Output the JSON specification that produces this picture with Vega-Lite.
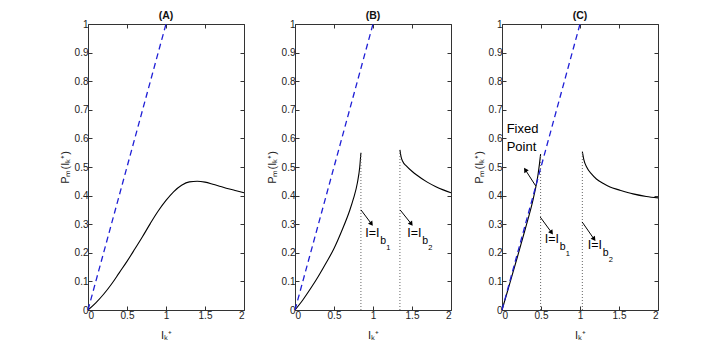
{
  "$schema": "https://vega.github.io/schema/vega-lite/v6.json",
  "padding": {"left": 58, "top": 10, "right": 5, "bottom": 5},
  "config": {
    "font": "Liberation Sans",
    "view": {"stroke": "#333333", "strokeWidth": 1},
    "axis": {"grid": false, "domain": false, "tickSize": -4, "tickColor": "#333333", "labelFontSize": 10, "labelColor": "#222222", "labelPadding": 4, "titleFontSize": 11, "titleFontWeight": "normal", "titleColor": "#222222"},
    "header": {"labelFontWeight": "bold", "labelFontSize": 10.5, "labelPadding": -3, "labelColor": "#111111"}
  },
  "data": {"values": [
    {"k":"c","p":"(A)","s":"A1","x":0,"y":0},{"k":"c","p":"(A)","s":"A1","x":0.1,"y":0.025},{"k":"c","p":"(A)","s":"A1","x":0.2,"y":0.055},{"k":"c","p":"(A)","s":"A1","x":0.3,"y":0.09},{"k":"c","p":"(A)","s":"A1","x":0.4,"y":0.13},{"k":"c","p":"(A)","s":"A1","x":0.5,"y":0.17},{"k":"c","p":"(A)","s":"A1","x":0.6,"y":0.213},{"k":"c","p":"(A)","s":"A1","x":0.7,"y":0.257},{"k":"c","p":"(A)","s":"A1","x":0.8,"y":0.303},{"k":"c","p":"(A)","s":"A1","x":0.9,"y":0.346},{"k":"c","p":"(A)","s":"A1","x":1.0,"y":0.383},{"k":"c","p":"(A)","s":"A1","x":1.1,"y":0.414},{"k":"c","p":"(A)","s":"A1","x":1.2,"y":0.436},{"k":"c","p":"(A)","s":"A1","x":1.3,"y":0.448},{"k":"c","p":"(A)","s":"A1","x":1.4,"y":0.45},{"k":"c","p":"(A)","s":"A1","x":1.5,"y":0.447},{"k":"c","p":"(A)","s":"A1","x":1.6,"y":0.44},{"k":"c","p":"(A)","s":"A1","x":1.7,"y":0.432},{"k":"c","p":"(A)","s":"A1","x":1.8,"y":0.424},{"k":"c","p":"(A)","s":"A1","x":1.9,"y":0.417},{"k":"c","p":"(A)","s":"A1","x":2.0,"y":0.41},
    {"k":"c","p":"(B)","s":"B1","x":0,"y":0},{"k":"c","p":"(B)","s":"B1","x":0.1,"y":0.035},{"k":"c","p":"(B)","s":"B1","x":0.2,"y":0.075},{"k":"c","p":"(B)","s":"B1","x":0.3,"y":0.118},{"k":"c","p":"(B)","s":"B1","x":0.4,"y":0.165},{"k":"c","p":"(B)","s":"B1","x":0.5,"y":0.215},{"k":"c","p":"(B)","s":"B1","x":0.6,"y":0.277},{"k":"c","p":"(B)","s":"B1","x":0.7,"y":0.347},{"k":"c","p":"(B)","s":"B1","x":0.75,"y":0.39},{"k":"c","p":"(B)","s":"B1","x":0.8,"y":0.445},{"k":"c","p":"(B)","s":"B1","x":0.83,"y":0.5},{"k":"c","p":"(B)","s":"B1","x":0.845,"y":0.55},
    {"k":"c","p":"(B)","s":"B2","x":1.345,"y":0.56},{"k":"c","p":"(B)","s":"B2","x":1.36,"y":0.535},{"k":"c","p":"(B)","s":"B2","x":1.38,"y":0.52},{"k":"c","p":"(B)","s":"B2","x":1.43,"y":0.503},{"k":"c","p":"(B)","s":"B2","x":1.5,"y":0.485},{"k":"c","p":"(B)","s":"B2","x":1.56,"y":0.472},{"k":"c","p":"(B)","s":"B2","x":1.69,"y":0.448},{"k":"c","p":"(B)","s":"B2","x":1.8,"y":0.432},{"k":"c","p":"(B)","s":"B2","x":1.9,"y":0.42},{"k":"c","p":"(B)","s":"B2","x":2.0,"y":0.41},
    {"k":"c","p":"(C)","s":"C1","x":0,"y":0},{"k":"c","p":"(C)","s":"C1","x":0.1,"y":0.093},{"k":"c","p":"(C)","s":"C1","x":0.2,"y":0.188},{"k":"c","p":"(C)","s":"C1","x":0.3,"y":0.285},{"k":"c","p":"(C)","s":"C1","x":0.4,"y":0.388},{"k":"c","p":"(C)","s":"C1","x":0.43,"y":0.425},{"k":"c","p":"(C)","s":"C1","x":0.46,"y":0.47},{"k":"c","p":"(C)","s":"C1","x":0.48,"y":0.51},{"k":"c","p":"(C)","s":"C1","x":0.495,"y":0.545},
    {"k":"c","p":"(C)","s":"C2","x":1.03,"y":0.554},{"k":"c","p":"(C)","s":"C2","x":1.05,"y":0.525},{"k":"c","p":"(C)","s":"C2","x":1.085,"y":0.5},{"k":"c","p":"(C)","s":"C2","x":1.15,"y":0.475},{"k":"c","p":"(C)","s":"C2","x":1.21,"y":0.458},{"k":"c","p":"(C)","s":"C2","x":1.3,"y":0.442},{"k":"c","p":"(C)","s":"C2","x":1.385,"y":0.43},{"k":"c","p":"(C)","s":"C2","x":1.5,"y":0.42},{"k":"c","p":"(C)","s":"C2","x":1.68,"y":0.406},{"k":"c","p":"(C)","s":"C2","x":1.85,"y":0.397},{"k":"c","p":"(C)","s":"C2","x":2.0,"y":0.392},
    {"k":"d","p":"(A)","x":0,"y":0},{"k":"d","p":"(A)","x":1,"y":1},
    {"k":"d","p":"(B)","x":0,"y":0},{"k":"d","p":"(B)","x":1,"y":1},
    {"k":"d","p":"(C)","x":0,"y":0},{"k":"d","p":"(C)","x":1,"y":1},
    {"k":"v","p":"(B)","x":0.845,"y":0,"y2":0.55},{"k":"v","p":"(B)","x":1.345,"y":0,"y2":0.56},
    {"k":"v","p":"(C)","x":0.495,"y":0,"y2":0.545},{"k":"v","p":"(C)","x":1.03,"y":0,"y2":0.554},
    {"k":"a","p":"(B)","x":0.846,"y":0.35,"x2":0.975,"y2":0.303},{"k":"a","p":"(B)","x":1.347,"y":0.35,"x2":1.485,"y2":0.303},
    {"k":"a","p":"(C)","x":0.49,"y":0.325,"x2":0.63,"y2":0.273},{"k":"a","p":"(C)","x":1.027,"y":0.308,"x2":1.175,"y2":0.25},
    {"k":"fa","p":"(C)","x":0.432,"y":0.434,"x2":0.304,"y2":0.488},
    {"k":"l","p":"(B)","x":0.9,"y":0.255,"t":"I=I","b":"b","n":"1"},{"k":"l","p":"(B)","x":1.44,"y":0.255,"t":"I=I","b":"b","n":"2"},
    {"k":"l","p":"(C)","x":0.547,"y":0.235,"t":"I=I","b":"b","n":"1"},{"k":"l","p":"(C)","x":1.1,"y":0.212,"t":"I=I","b":"b","n":"2"},
    {"k":"f","p":"(C)","x":0.06,"y":0.62,"t":"Fixed"},{"k":"f","p":"(C)","x":0.06,"y":0.556,"t":"Point"}
  ]},
  "facet": {"column": {"field": "p", "type": "nominal", "title": null}},
  "spacing": 18,
  "resolve": {"axis": {"x": "independent", "y": "independent"}},
  "spec": {
    "width": 156,
    "height": 286,
    "resolve": {"axis": {"x": "independent", "y": "independent"}},
    "layer": [
      {
        "transform": [{"filter": "datum.k === 'c'"}],
        "mark": {"type": "line", "color": "black", "strokeWidth": 1.1, "interpolate": "monotone"},
        "encoding": {
          "x": {"field": "x", "type": "quantitative", "scale": {"domain": [0, 2]}, "axis": {"orient": "bottom", "title": "Iₖ⁺", "values": [0, 0.5, 1, 1.5, 2], "format": "~g", "titlePadding": 9}},
          "y": {"field": "y", "type": "quantitative", "scale": {"domain": [0, 1]}, "axis": {"orient": "left", "title": "Pₘ(Iₖ⁺)", "values": [0, 0.1, 0.2, 0.3, 0.4, 0.5, 0.6, 0.7, 0.8, 0.9, 1], "format": "~g", "titlePadding": 4}},
          "detail": {"field": "s"}
        }
      },
      {
        "transform": [{"filter": "datum.k === 'v'"}],
        "mark": {"type": "rule", "color": "#666666", "strokeDash": [1, 2], "strokeWidth": 1},
        "encoding": {
          "x": {"field": "x", "type": "quantitative", "axis": null},
          "y": {"field": "y", "type": "quantitative", "axis": null},
          "y2": {"field": "y2"}
        }
      },
      {
        "transform": [{"filter": "datum.k === 'd'"}],
        "mark": {"type": "line", "color": "#1f1fd6", "strokeWidth": 1.3, "strokeDash": [6, 4]},
        "encoding": {
          "x": {"field": "x", "type": "quantitative", "axis": null},
          "y": {"field": "y", "type": "quantitative", "axis": null}
        }
      },
      {
        "transform": [{"filter": "datum.k === 'a' || datum.k === 'fa'"}],
        "mark": {"type": "rule", "color": "black", "strokeWidth": 1},
        "encoding": {
          "x": {"field": "x", "type": "quantitative", "axis": null},
          "y": {"field": "y", "type": "quantitative", "axis": null},
          "x2": {"field": "x2"},
          "y2": {"field": "y2"}
        }
      },
      {
        "transform": [{"filter": "datum.k === 'a'"}],
        "mark": {"type": "point", "shape": "triangle", "angle": 144, "filled": true, "color": "black", "opacity": 1, "size": 28},
        "encoding": {
          "x": {"field": "x2", "type": "quantitative", "axis": null},
          "y": {"field": "y2", "type": "quantitative", "axis": null}
        }
      },
      {
        "transform": [{"filter": "datum.k === 'fa'"}],
        "mark": {"type": "point", "shape": "triangle", "angle": 327, "filled": true, "color": "black", "opacity": 1, "size": 28},
        "encoding": {
          "x": {"field": "x2", "type": "quantitative", "axis": null},
          "y": {"field": "y2", "type": "quantitative", "axis": null}
        }
      },
      {
        "transform": [{"filter": "datum.k === 'l'"}],
        "mark": {"type": "text", "align": "left", "baseline": "alphabetic", "fontSize": 12.5, "color": "black"},
        "encoding": {
          "x": {"field": "x", "type": "quantitative", "axis": null},
          "y": {"field": "y", "type": "quantitative", "axis": null},
          "text": {"field": "t"}
        }
      },
      {
        "transform": [{"filter": "datum.k === 'l'"}],
        "mark": {"type": "text", "align": "left", "baseline": "alphabetic", "fontSize": 10.5, "dx": 15, "dy": 7, "color": "black"},
        "encoding": {
          "x": {"field": "x", "type": "quantitative", "axis": null},
          "y": {"field": "y", "type": "quantitative", "axis": null},
          "text": {"field": "b"}
        }
      },
      {
        "transform": [{"filter": "datum.k === 'l'"}],
        "mark": {"type": "text", "align": "left", "baseline": "alphabetic", "fontSize": 7.5, "dx": 21, "dy": 13, "color": "black"},
        "encoding": {
          "x": {"field": "x", "type": "quantitative", "axis": null},
          "y": {"field": "y", "type": "quantitative", "axis": null},
          "text": {"field": "n"}
        }
      },
      {
        "transform": [{"filter": "datum.k === 'f'"}],
        "mark": {"type": "text", "align": "left", "baseline": "alphabetic", "fontSize": 13, "color": "black"},
        "encoding": {
          "x": {"field": "x", "type": "quantitative", "axis": null},
          "y": {"field": "y", "type": "quantitative", "axis": null},
          "text": {"field": "t"}
        }
      },
      {
        "transform": [{"filter": "datum.k === 'd'"}],
        "mark": {"type": "point", "opacity": 0},
        "encoding": {
          "x": {"field": "x", "type": "quantitative", "axis": {"orient": "top", "labels": false, "title": null, "values": [0, 0.5, 1, 1.5, 2]}},
          "y": {"field": "y", "type": "quantitative", "axis": {"orient": "right", "labels": false, "title": null, "values": [0, 0.1, 0.2, 0.3, 0.4, 0.5, 0.6, 0.7, 0.8, 0.9, 1]}}
        }
      }
    ]
  }
}
